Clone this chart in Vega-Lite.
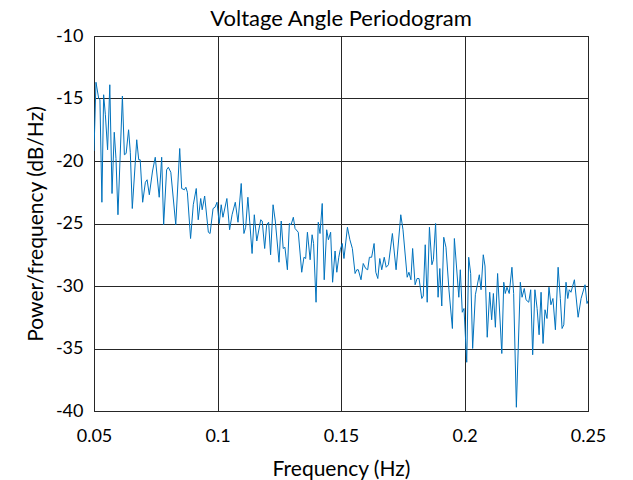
{
  "$schema": "https://vega.github.io/schema/vega-lite/v6.json",
  "width": 494,
  "height": 375,
  "autosize": {"type": "none"},
  "padding": {"left": 94, "top": 36, "right": 45, "bottom": 69},
  "background": "white",
  "title": {"text": "Voltage Angle Periodogram", "font": "Lato", "fontSize": 22, "fontWeight": "normal", "color": "black", "offset": -4, "anchor": "middle"},
  "config": {
    "view": {"stroke": "black", "strokeWidth": 1},
    "axis": {"grid": true, "gridColor": "#262626", "gridOpacity": 1, "gridWidth": 1, "domain": false, "ticks": false,
             "labelFont": "Lato", "labelFontSize": 18, "labelColor": "black", "titleFont": "Lato", "titleFontSize": 21, "titleFontWeight": "normal", "titleColor": "black",
             "labelExpr": "replace(datum.label, '\u2212', '-')"}
  },
  "data": {"values": [
    {"f":0.05,"p":-19.2},{"f":0.0508,"p":-13.7},{"f":0.0519,"p":-15.0},{"f":0.0524,"p":-15.1},{"f":0.0532,"p":-23.3},
    {"f":0.0539,"p":-14.7},{"f":0.0546,"p":-16.3},{"f":0.0555,"p":-19.1},{"f":0.0564,"p":-13.9},{"f":0.0573,"p":-22.6},
    {"f":0.0582,"p":-17.7},{"f":0.0589,"p":-19.8},{"f":0.0597,"p":-24.3},{"f":0.0615,"p":-14.8},{"f":0.0623,"p":-19.5},
    {"f":0.0630,"p":-19.4},{"f":0.0640,"p":-17.5},{"f":0.0647,"p":-19.3},{"f":0.0655,"p":-23.8},{"f":0.0673,"p":-18.3},
    {"f":0.0681,"p":-19.9},{"f":0.0687,"p":-19.9},{"f":0.0697,"p":-23.3},{"f":0.0708,"p":-21.7},{"f":0.0715,"p":-21.5},
    {"f":0.0724,"p":-22.7},{"f":0.0737,"p":-20.8},{"f":0.0748,"p":-19.7},{"f":0.0764,"p":-22.9},{"f":0.0774,"p":-19.7},
    {"f":0.0782,"p":-25.1},{"f":0.0794,"p":-20.7},{"f":0.0801,"p":-20.5},{"f":0.0811,"p":-20.9},{"f":0.0831,"p":-25.1},
    {"f":0.0847,"p":-19.0},{"f":0.0855,"p":-22.2},{"f":0.0866,"p":-22.3},{"f":0.0872,"p":-22.1},{"f":0.0878,"p":-22.5},
    {"f":0.0891,"p":-26.2},{"f":0.0902,"p":-23.5},{"f":0.0914,"p":-22.2},{"f":0.0922,"p":-24.7},{"f":0.0932,"p":-23.0},
    {"f":0.0938,"p":-23.9},{"f":0.0948,"p":-22.8},{"f":0.0963,"p":-25.7},{"f":0.0970,"p":-25.8},{"f":0.0982,"p":-23.8},
    {"f":0.0990,"p":-23.7},{"f":0.0998,"p":-23.3},{"f":0.1007,"p":-25.0},{"f":0.1015,"p":-23.5},{"f":0.1022,"p":-24.5},
    {"f":0.1038,"p":-23.0},{"f":0.1049,"p":-25.5},{"f":0.1059,"p":-24.3},{"f":0.1072,"p":-23.3},{"f":0.1083,"p":-24.9},
    {"f":0.1096,"p":-21.8},{"f":0.1107,"p":-25.8},{"f":0.1114,"p":-25.3},{"f":0.1123,"p":-22.9},{"f":0.1140,"p":-27.4},
    {"f":0.1149,"p":-24.3},{"f":0.1159,"p":-26.4},{"f":0.1175,"p":-24.7},{"f":0.1181,"p":-24.8},{"f":0.1191,"p":-27.0},
    {"f":0.1199,"p":-25.1},{"f":0.1207,"p":-24.9},{"f":0.1215,"p":-27.5},{"f":0.1225,"p":-23.5},{"f":0.1234,"p":-24.8},
    {"f":0.1249,"p":-28.1},{"f":0.1258,"p":-24.8},{"f":0.1266,"p":-27.0},{"f":0.1273,"p":-26.9},{"f":0.1283,"p":-28.7},
    {"f":0.1291,"p":-25.0},{"f":0.1298,"p":-25.1},{"f":0.1307,"p":-24.5},{"f":0.1314,"p":-25.4},{"f":0.1327,"p":-25.7},
    {"f":0.1341,"p":-28.9},{"f":0.1350,"p":-27.7},{"f":0.1357,"p":-27.8},{"f":0.1364,"p":-25.7},{"f":0.1375,"p":-27.9},
    {"f":0.1383,"p":-25.9},{"f":0.1389,"p":-26.6},{"f":0.1399,"p":-31.3},{"f":0.1408,"p":-24.9},{"f":0.1415,"p":-25.8},
    {"f":0.1424,"p":-23.4},{"f":0.1432,"p":-29.5},{"f":0.1442,"p":-25.5},{"f":0.1449,"p":-26.3},{"f":0.1458,"p":-25.7},
    {"f":0.1466,"p":-29.7},{"f":0.1476,"p":-27.2},{"f":0.1483,"p":-28.9},{"f":0.1491,"p":-27.7},{"f":0.1497,"p":-27.1},
    {"f":0.1505,"p":-26.6},{"f":0.1512,"p":-27.8},{"f":0.1526,"p":-25.3},{"f":0.1536,"p":-26.3},{"f":0.1546,"p":-27.0},
    {"f":0.1557,"p":-29.0},{"f":0.1564,"p":-28.7},{"f":0.1570,"p":-28.7},{"f":0.1581,"p":-29.5},{"f":0.1590,"p":-28.2},
    {"f":0.1600,"p":-28.6},{"f":0.1608,"p":-28.7},{"f":0.1615,"p":-27.7},{"f":0.1624,"p":-27.7},{"f":0.1634,"p":-26.6},
    {"f":0.1641,"p":-28.9},{"f":0.1649,"p":-29.4},{"f":0.1657,"p":-27.8},{"f":0.1665,"p":-28.7},{"f":0.1675,"p":-27.7},
    {"f":0.1683,"p":-28.5},{"f":0.1692,"p":-28.3},{"f":0.1708,"p":-25.8},{"f":0.1723,"p":-28.7},{"f":0.1742,"p":-24.3},
    {"f":0.1751,"p":-25.5},{"f":0.1768,"p":-29.3},{"f":0.1775,"p":-28.9},{"f":0.1783,"p":-29.5},{"f":0.1790,"p":-27.0},
    {"f":0.1800,"p":-29.9},{"f":0.1808,"p":-29.4},{"f":0.1816,"p":-29.4},{"f":0.1827,"p":-31.0},{"f":0.1833,"p":-30.8},
    {"f":0.1841,"p":-26.7},{"f":0.1849,"p":-31.3},{"f":0.1858,"p":-25.3},{"f":0.1868,"p":-28.3},{"f":0.1874,"p":-27.9},
    {"f":0.1883,"p":-25.0},{"f":0.1893,"p":-30.9},{"f":0.1900,"p":-28.6},{"f":0.1908,"p":-31.6},{"f":0.1916,"p":-26.1},
    {"f":0.1925,"p":-26.9},{"f":0.1937,"p":-30.3},{"f":0.1951,"p":-33.4},{"f":0.1959,"p":-26.2},{"f":0.1977,"p":-30.9},
    {"f":0.1983,"p":-28.7},{"f":0.1991,"p":-32.1},{"f":0.1998,"p":-31.8},{"f":0.2009,"p":-36.1},{"f":0.2017,"p":-27.7},
    {"f":0.2025,"p":-29.0},{"f":0.2033,"p":-35.0},{"f":0.2044,"p":-30.7},{"f":0.2051,"p":-30.0},{"f":0.2060,"p":-29.1},
    {"f":0.2067,"p":-30.3},{"f":0.2076,"p":-27.5},{"f":0.2083,"p":-28.4},{"f":0.2092,"p":-34.1},{"f":0.2102,"p":-30.5},
    {"f":0.2110,"p":-32.7},{"f":0.2117,"p":-30.6},{"f":0.2125,"p":-33.3},{"f":0.2134,"p":-29.0},{"f":0.2151,"p":-35.4},
    {"f":0.2159,"p":-29.7},{"f":0.2165,"p":-30.6},{"f":0.2172,"p":-30.1},{"f":0.2181,"p":-30.6},{"f":0.2192,"p":-28.5},
    {"f":0.2199,"p":-30.6},{"f":0.2210,"p":-39.7},{"f":0.2226,"p":-29.7},{"f":0.2233,"p":-30.9},{"f":0.2242,"p":-30.2},
    {"f":0.2249,"p":-31.1},{"f":0.2260,"p":-31.3},{"f":0.2268,"p":-30.3},{"f":0.2276,"p":-35.5},{"f":0.2285,"p":-30.3},
    {"f":0.2294,"p":-31.8},{"f":0.2302,"p":-33.9},{"f":0.2310,"p":-30.5},{"f":0.2318,"p":-34.6},{"f":0.2326,"p":-31.9},
    {"f":0.2334,"p":-32.6},{"f":0.2342,"p":-30.1},{"f":0.2350,"p":-31.5},{"f":0.2358,"p":-31.0},{"f":0.2368,"p":-33.5},
    {"f":0.2379,"p":-28.5},{"f":0.2388,"p":-31.0},{"f":0.2395,"p":-33.4},{"f":0.2402,"p":-33.1},{"f":0.2411,"p":-29.7},
    {"f":0.2418,"p":-31.0},{"f":0.2424,"p":-30.3},{"f":0.2431,"p":-30.5},{"f":0.2445,"p":-29.5},{"f":0.2460,"p":-32.5},
    {"f":0.2472,"p":-31.0},{"f":0.2488,"p":-29.9},{"f":0.2496,"p":-31.4},{"f":0.25,"p":-31.2}
  ]},
  "mark": {"type": "line", "color": "#0072BD", "strokeWidth": 1, "clip": true},
  "encoding": {
    "x": {"field": "f", "type": "quantitative", "title": "Frequency (Hz)",
          "scale": {"domain": [0.05, 0.25], "nice": false, "zero": false},
          "axis": {"values": [0.05, 0.1, 0.15, 0.2, 0.25], "format": "~g", "labelPadding": 16, "titlePadding": 13, "labelFlush": false}},
    "y": {"field": "p", "type": "quantitative", "title": "Power/frequency (dB/Hz)",
          "scale": {"domain": [-40, -10], "nice": false, "zero": false},
          "axis": {"values": [-40, -35, -30, -25, -20, -15, -10], "labelPadding": 11, "titlePadding": 9, "labelFlush": false}}
  }
}
